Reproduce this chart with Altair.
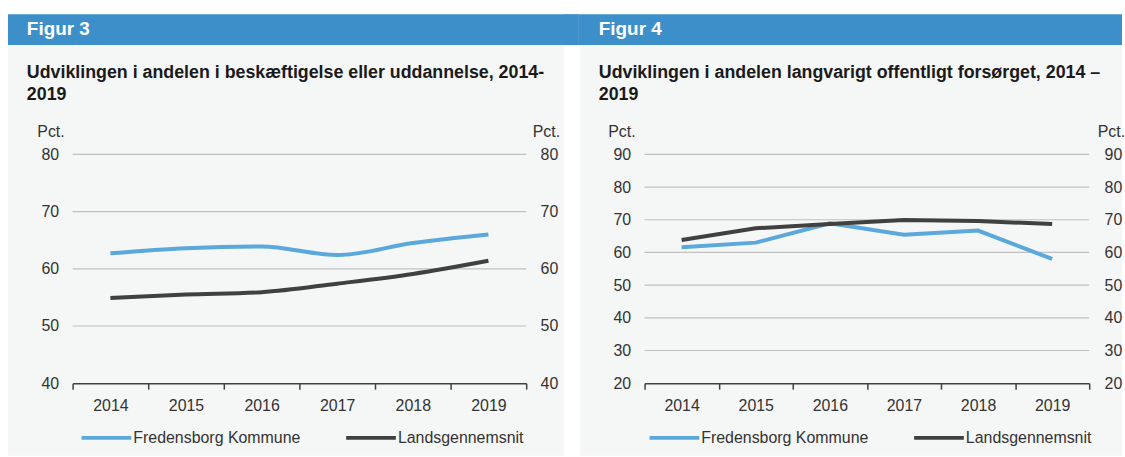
import altair as alt
import pandas as pd

# ---------------- data ----------------
years = ["2014", "2015", "2016", "2017", "2018", "2019"]
series_names = ["Fredensborg Kommune", "Landsgennemsnit"]

fig3_fredensborg = [62.7, 63.6, 63.9, 62.4, 64.5, 66.0]
fig3_lands = [54.9, 55.5, 55.9, 57.4, 59.1, 61.4]
fig3_ticks = [40, 50, 60, 70, 80]

fig4_fredensborg = [61.6, 63.0, 68.9, 65.4, 66.7, 58.0]
fig4_lands = [63.8, 67.4, 68.7, 69.9, 69.6, 68.7]
fig4_ticks = [20, 30, 40, 50, 60, 70, 80, 90]

fig3_header = "Figur 3"
fig3_title = ["Udviklingen i andelen i beskæftigelse eller uddannelse, 2014-", "2019"]
fig4_header = "Figur 4"
fig4_title = ["Udviklingen i andelen langvarigt offentligt forsørget, 2014 –", "2019"]
unit_label = "Pct."

# ---------------- style ----------------
FONT = "Liberation Sans"
BLUE = "#5aa8dc"
DARK = "#404040"
HEADER = "#3d8fca"
PANEL = "#f5f6f6"
TEXT = "#333333"
GRID = "#c0c0c0"
PLOT_H = 230


def panel(header, title_lines, fred, lands, ticks, width, hdr_x1, bg_x1, right_x,
          interp, legend_x, pct_left_x, pct_right_x, right_pad):
    df = pd.DataFrame({
        "year": years * 2,
        "series": [series_names[0]] * len(years) + [series_names[1]] * len(years),
        "value": fred + lands,
    })
    grid_df = pd.DataFrame({"tick": ticks[1:]})
    one = alt.Data(values=[{}])

    bg = alt.Chart(one).mark_rect(color=PANEL).encode(
        x=alt.value(bg_x1), x2=alt.value(right_x),
        y=alt.value(-110), y2=alt.value(303))
    hdr = alt.Chart(one).mark_rect(color=HEADER).encode(
        x=alt.value(hdr_x1), x2=alt.value(right_x),
        y=alt.value(-141), y2=alt.value(-110))
    hdr_text = alt.Chart(one).mark_text(
        text=header, align="left", baseline="alphabetic", fontSize=19,
        fontWeight="bold", color="white", font=FONT
    ).encode(x=alt.value(bg_x1 + 19), y=alt.value(-120))
    title = alt.Chart(one).mark_text(
        text=title_lines, align="left", baseline="alphabetic", fontSize=17.9,
        fontWeight="bold", color="#1a1a1a", font=FONT, lineHeight=22
    ).encode(x=alt.value(bg_x1 + 19), y=alt.value(-77))

    y_scale = alt.Scale(domain=[ticks[0], ticks[-1]], nice=False, zero=False)

    grid = alt.Chart(grid_df).mark_rule(color=GRID, strokeWidth=1.2).encode(
        y=alt.Y("tick:Q", scale=y_scale, axis=None),
        x=alt.value(0), x2=alt.value("width"))

    x_enc = alt.X(
        "year:N", sort=years,
        scale=alt.Scale(type="band", paddingInner=0, paddingOuter=0),
        axis=alt.Axis(title=None, labelAngle=0, labelFontSize=16, labelColor=TEXT,
                      labelPadding=8, tickBand="extent", tickSize=6, tickColor=DARK,
                      tickWidth=1.5, domainColor=DARK, domainWidth=1.5, grid=False,
                      labelFont=FONT, zindex=1))
    color_enc = alt.Color(
        "series:N",
        scale=alt.Scale(domain=series_names, range=[BLUE, DARK]),
        legend=alt.Legend(title=None, orient="none", direction="horizontal",
                          legendX=legend_x, legendY=258, padding=0,
                          symbolType="stroke", symbolSize=2500, symbolStrokeWidth=4,
                          labelFontSize=16, labelColor=TEXT, labelOffset=0,
                          labelLimit=400, columnPadding=37, labelFont=FONT))
    left_axis = alt.Axis(values=ticks, title=unit_label, titleAngle=0, titleAlign="left",
                         titleBaseline="alphabetic", titleX=pct_left_x, titleY=-18,
                         titleFontSize=16, titleFontWeight="normal", titleColor=TEXT,
                         labelFontSize=16, labelColor=TEXT, labelPadding=14,
                         tickSize=0, ticks=False, domain=False, grid=False,
                         labelFont=FONT, titleFont=FONT, zindex=1)
    right_axis = alt.Axis(orient="right", values=ticks, title=unit_label, titleAngle=0,
                          titleAlign="left", titleBaseline="alphabetic", titleX=pct_right_x,
                          titleY=-18, titleFontSize=16, titleFontWeight="normal",
                          titleColor=TEXT, labelFontSize=16, labelColor=TEXT,
                          labelPadding=right_pad, tickSize=0, ticks=False, domain=False,
                          grid=False, labelFont=FONT, titleFont=FONT, zindex=1)

    base = alt.Chart(df)
    line_a = base.transform_filter(alt.datum.series == series_names[0]).mark_line(
        strokeWidth=4, interpolate=interp).encode(
        x=x_enc, y=alt.Y("value:Q", scale=y_scale, axis=left_axis), color=color_enc)
    line_b = base.transform_filter(alt.datum.series == series_names[1]).mark_line(
        strokeWidth=4, interpolate=interp).encode(
        x=x_enc, y=alt.Y("value:Q", scale=y_scale, axis=right_axis), color=color_enc)

    return alt.layer(bg, hdr, hdr_text, title, grid, line_a, line_b).resolve_axis(
        y="independent").properties(width=width, height=PLOT_H)


p3 = panel(fig3_header, fig3_title, fig3_fredensborg, fig3_lands, fig3_ticks,
           width=456, hdr_x1=-65, bg_x1=-65, right_x=494, interp="monotone",
           legend_x=7, pct_left_x=-36, pct_right_x=6, right_pad=14)
p3_hdr_ext = alt.Chart(alt.Data(values=[{}])).mark_rect(color=HEADER).encode(
    x=alt.value(494), x2=alt.value(509), y=alt.value(-141), y2=alt.value(-110))
p3 = alt.layer(p3, p3_hdr_ext)

p4 = panel(fig4_header, fig4_title, fig4_fredensborg, fig4_lands, fig4_ticks,
           width=447, hdr_x1=-66, bg_x1=-65, right_x=480, interp="linear",
           legend_x=3, pct_left_x=-37, pct_right_x=8, right_pad=15)

chart = alt.hconcat(p3, p4, spacing=0).resolve_legend(color="independent").configure(
    font=FONT).configure_view(stroke=None).properties(
    padding={"left": 8, "top": 13, "right": 0, "bottom": 0}, background="white")

chart.save("out.html", embed_options={"renderer": "svg", "actions": False})
